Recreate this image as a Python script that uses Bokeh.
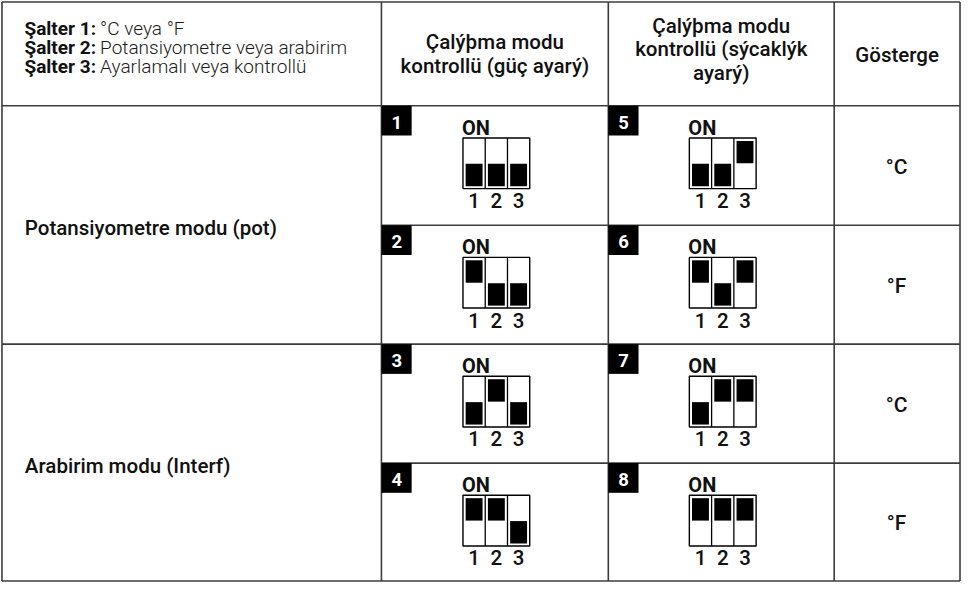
from bokeh.plotting import figure
from bokeh.models import Range1d
from bokeh.embed import file_html
from bokeh.resources import INLINE
from bokeh.core.properties import value

# ---------------- data ----------------
legend_keys = ["Şalter 1:", "Şalter 2:", "Şalter 3:"]
legend_texts = ["°C veya °F", "Potansiyometre veya arabirim", "Ayarlamalı veya kontrollü"]
col1_header = ["Çalýþma modu", "kontrollü (güç ayarý)"]
col2_header = ["Çalýþma modu", "kontrollü (sýcaklýk", "ayarý)"]
col3_header = ["Gösterge"]
mode_labels = ["Potansiyometre modu (pot)", "Arabirim modu (Interf)"]
display_units = ["°C", "°F", "°C", "°F"]
settings_col1 = [1, 2, 3, 4]
settings_col2 = [5, 6, 7, 8]
# switch positions for settings 1..8 (1 = ON / up, 0 = down)
switch_states = {
    1: [0, 0, 0], 2: [1, 0, 0], 3: [0, 1, 0], 4: [1, 1, 0],
    5: [0, 0, 1], 6: [1, 0, 1], 7: [0, 1, 1], 8: [1, 1, 1],
}
switch_labels = ["1", "2", "3"]

# ---------------- layout ----------------
XL = [4, 387, 616, 844, 971]          # column boundaries
YL = [2, 108.5, 231, 353, 475, 596]   # row boundaries
FONT = value("Roboto")
FONT_MED = value("Roboto Medium, Roboto")
FONT_LIGHT = value("Roboto Light, Roboto")
INK = "#111111"
GRID = "#3c3c3c"


def bl(b, fs):
    """anchor y so that the text baseline lands at b"""
    return b - 0.33 * fs


p = figure(width=961, height=582, x_range=Range1d(2.5, 972.5), y_range=Range1d(597.5, 0.5),
           output_backend="svg", toolbar_location=None, min_border=0,
           x_axis_type=None, y_axis_type=None)
p.grid.visible = False
p.outline_line_color = None
p.background_fill_color = "white"
p.border_fill_color = "white"

# ---------- switch diagrams + badges ----------
bx_l, bx_r, bx_t, bx_b = [], [], [], []
blk_l, blk_r, blk_t, blk_b = [], [], [], []
div_x0, div_y0, div_x1, div_y1 = [], [], [], []
bad_l, bad_r, bad_t, bad_b = [], [], [], []
bad_x, bad_y, bad_txt = [], [], []
on_x, on_y = [], []
num_x, num_y, num_txt = [], [], []
BW = 67.4
cw = BW / 3
FS_BADGE, FS_ON, FS_NUM = 18.5, 20, 20.5
for ci, settings in enumerate([settings_col1, settings_col2]):
    cl, cr = XL[1 + ci], XL[2 + ci]
    for ri, s in enumerate(settings):
        T = YL[1 + ri]
        bad_l.append(cl); bad_r.append(cl + 30.5); bad_t.append(T); bad_b.append(T + 30.5)
        bad_x.append(cl + 15.5); bad_y.append(bl(T + 23, FS_BADGE)); bad_txt.append(str(s))
        cx = (cl + cr) / 2 + 1.5
        left = cx - BW / 2
        top = T + 33
        bottom = T + 85
        bx_l.append(left); bx_r.append(left + BW); bx_t.append(top); bx_b.append(bottom)
        for k in (1, 2):
            div_x0.append(left + k * cw); div_x1.append(left + k * cw)
            div_y0.append(top); div_y1.append(bottom)
        for k, st in enumerate(switch_states[s]):
            l = left + k * cw + 2.7
            r = left + (k + 1) * cw - 2.7
            blk_l.append(l); blk_r.append(r)
            if st:
                blk_t.append(top + 3); blk_b.append(top + 26)
            else:
                blk_t.append(top + 26.5); blk_b.append(bottom - 2.5)
            num_x.append(left + (k + 0.5) * cw); num_y.append(bl(T + 104, FS_NUM))
            num_txt.append(switch_labels[k])
        on_x.append(left - 1); on_y.append(bl(T + 29, FS_ON))

p.quad(left=bx_l, right=bx_r, top=bx_t, bottom=bx_b, fill_color="white",
       line_color="#000000", line_width=1.4)
p.segment(x0=div_x0, y0=div_y0, x1=div_x1, y1=div_y1, line_color="#000000", line_width=1.3)
p.quad(left=blk_l, right=blk_r, top=blk_t, bottom=blk_b, fill_color="#000000", line_color=None)

# ---------- table grid ----------
sx0, sy0, sx1, sy1 = [], [], [], []
for x in XL:
    sx0.append(x); sx1.append(x); sy0.append(YL[0]); sy1.append(YL[-1])
for i, y in enumerate(YL):
    x_start = XL[1] if i in (2, 4) else XL[0]
    sx0.append(x_start); sx1.append(XL[-1]); sy0.append(y); sy1.append(y)
p.segment(x0=sx0, y0=sy0, x1=sx1, y1=sy1, line_color=GRID, line_width=1.6)

p.quad(left=bad_l, right=bad_r, top=bad_t, bottom=bad_b, fill_color="#000000", line_color=None)
p.text(x=bad_x, y=bad_y, text=bad_txt, text_font=FONT, text_font_size=f"{FS_BADGE}px",
       text_font_style="bold", text_color="white", text_align="center", text_baseline="alphabetic")
p.text(x=on_x, y=on_y, text=["ON"] * len(on_x), text_font=FONT, text_font_size=f"{FS_ON}px",
       text_font_style="bold", text_color=INK, text_align="left", text_baseline="alphabetic")
p.text(x=num_x, y=num_y, text=num_txt, text_font=FONT_MED, text_font_size=f"{FS_NUM}px",
       text_color=INK, text_align="center", text_baseline="alphabetic")

# ---------- header texts ----------
FS_LEG = 19
leg_b = [35, 55, 74.5]
leg_y = [bl(b, FS_LEG) for b in leg_b]
p.text(x=[26.7] * 3, y=leg_y, text=legend_keys, text_font=FONT, text_font_size=f"{FS_LEG}px",
       text_font_style="bold", text_color=INK, text_align="left", text_baseline="alphabetic")
p.text(x=[103] * 3, y=leg_y, text=legend_texts, text_font=FONT_LIGHT, text_font_size=f"{FS_LEG}px",
       text_color="#1a1a1a", text_align="left", text_baseline="alphabetic")

FS_HEAD = 20.5
c1 = (XL[1] + XL[2]) / 2
c2 = (XL[2] + XL[3]) / 2
c3 = (XL[3] + XL[4]) / 2
hx = [c1] * len(col1_header) + [c2] * len(col2_header) + [c3]
hb = [50, 74] + [33.3, 57.3, 81.5] + [63.3]
p.text(x=hx, y=[bl(b, FS_HEAD) for b in hb], text=col1_header + col2_header + col3_header,
       text_font=FONT_MED, text_font_size=f"{FS_HEAD}px", text_color=INK, text_align="center",
       text_baseline="alphabetic")

# ---------- row labels and units ----------
lab_b = [YL[2] + 9.5, YL[4] + 9.5]
p.text(x=[27, 27], y=[bl(b, FS_HEAD) for b in lab_b], text=mode_labels, text_font=FONT_MED,
       text_font_size=f"{FS_HEAD}px", text_color=INK, text_align="left", text_baseline="alphabetic")
FS_UNIT = 21
ub = [(YL[1 + i] + YL[2 + i]) / 2 + 8 for i in range(4)]
p.text(x=[c3 - 0.5] * 4, y=[bl(b, FS_UNIT) for b in ub], text=display_units, text_font=FONT_MED,
       text_font_size=f"{FS_UNIT}px", text_color=INK,
       text_align="center", text_baseline="alphabetic")

open("out.html", "w").write(file_html(p, INLINE))
